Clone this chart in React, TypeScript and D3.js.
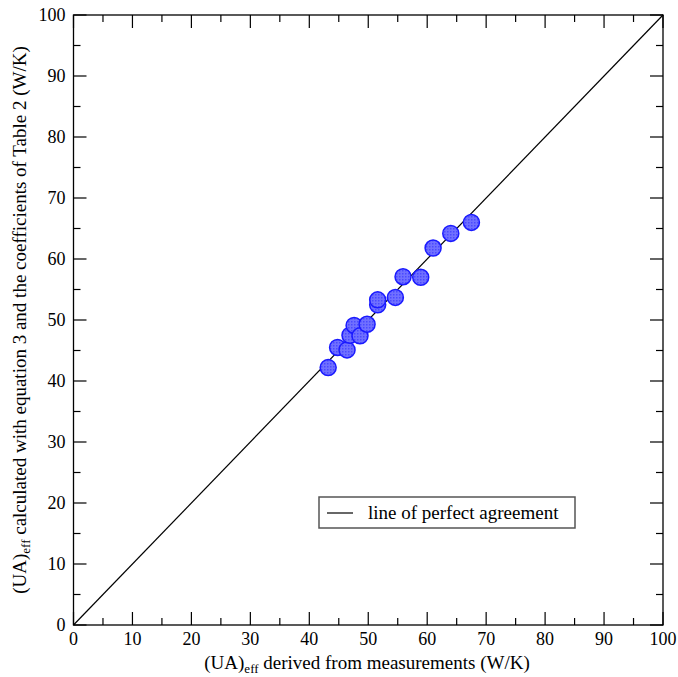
import React from "react";
import * as d3 from "d3";

const measuredUA = [43.2, 44.8, 46.4, 46.9, 47.6, 48.6, 49.8, 51.6, 51.6, 54.6, 55.9, 58.9, 61.0, 64.0, 67.5];
const calculatedUA = [42.2, 45.5, 45.1, 47.5, 49.1, 47.4, 49.3, 52.5, 53.3, 53.7, 57.1, 57.0, 61.8, 64.2, 66.0];
const majorTicks = [0, 10, 20, 30, 40, 50, 60, 70, 80, 90, 100];
const minorTicks = [5, 15, 25, 35, 45, 55, 65, 75, 85, 95];
const legendLabel = "line of perfect agreement";

const W = 678, H = 677;
const L = 73.5, R = 663, T = 15, B = 625;

export default function App() {
  const x = d3.scaleLinear().domain([0, 100]).range([L, R]);
  const y = d3.scaleLinear().domain([0, 100]).range([B, T]);
  const font = "'Liberation Serif', 'Times New Roman', serif";
  const line = d3.line<number>().x((d) => x(d)).y((d) => y(d));
  const majLen = 13, minLen = 7;
  return (
    <svg width={W} height={H} style={{ position: "absolute", left: 0, top: 0, background: "#fff" }}>
      <defs>
        <pattern id="hatch" width="3" height="3" patternUnits="userSpaceOnUse">
          <rect width="3" height="3" fill="#7070ff" />
          <rect width="1.5" height="1.5" fill="#4a4aff" />
        </pattern>
      </defs>
      <rect x={0} y={0} width={W} height={H} fill="#fff" />
      <path d={line([0, 100]) || ""} stroke="#000" strokeWidth={1.2} fill="none" />
      {measuredUA.map((m, i) => (
        <circle key={i} cx={x(m)} cy={y(calculatedUA[i])} r={8} fill="url(#hatch)" stroke="#1a1aff" strokeWidth={1.5} />
      ))}
      <rect x={L} y={T} width={R - L} height={B - T} fill="none" stroke="#000" strokeWidth={1.3} />
      {majorTicks.map((t) => (
        <g key={"M" + t} stroke="#000" strokeWidth={1.2}>
          <line x1={x(t)} x2={x(t)} y1={B} y2={B - majLen} />
          <line x1={x(t)} x2={x(t)} y1={T} y2={T + majLen} />
          <line x1={L} x2={L + majLen} y1={y(t)} y2={y(t)} />
          <line x1={R} x2={R - majLen} y1={y(t)} y2={y(t)} />
        </g>
      ))}
      {minorTicks.map((t) => (
        <g key={"m" + t} stroke="#000" strokeWidth={1.2}>
          <line x1={x(t)} x2={x(t)} y1={B} y2={B - minLen} />
          <line x1={x(t)} x2={x(t)} y1={T} y2={T + minLen} />
          <line x1={L} x2={L + minLen} y1={y(t)} y2={y(t)} />
          <line x1={R} x2={R - minLen} y1={y(t)} y2={y(t)} />
        </g>
      ))}
      {majorTicks.map((t) => (
        <text key={"xl" + t} x={x(t)} y={B + 20} textAnchor="middle" fontFamily={font} fontSize={18} fill="#000">{t}</text>
      ))}
      {majorTicks.map((t) => (
        <text key={"yl" + t} x={L - 8} y={y(t) + 6} textAnchor="end" fontFamily={font} fontSize={18} fill="#000">{t}</text>
      ))}
      <text x={367} y={669} textAnchor="middle" fontFamily={font} fontSize={19} fill="#000">
        (UA)<tspan fontSize={13} dy={4}>eff</tspan><tspan dy={-4}> derived from measurements (W/K)</tspan>
      </text>
      <text transform={`translate(26, ${(T + B) / 2}) rotate(-90)`} textAnchor="middle" fontFamily={font} fontSize={19} fill="#000">
        (UA)<tspan fontSize={13} dy={4}>eff</tspan><tspan dy={-4}> calculated with equation 3 and the coefficients of Table 2 (W/K)</tspan>
      </text>
      <rect x={319} y={497} width={256} height={31} fill="#fff" stroke="#555" strokeWidth={1.5} />
      <line x1={327} x2={353} y1={513} y2={513} stroke="#000" strokeWidth={1.2} />
      <text x={368} y={519} fontFamily={font} fontSize={19} fill="#000">{legendLabel}</text>
    </svg>
  );
}
